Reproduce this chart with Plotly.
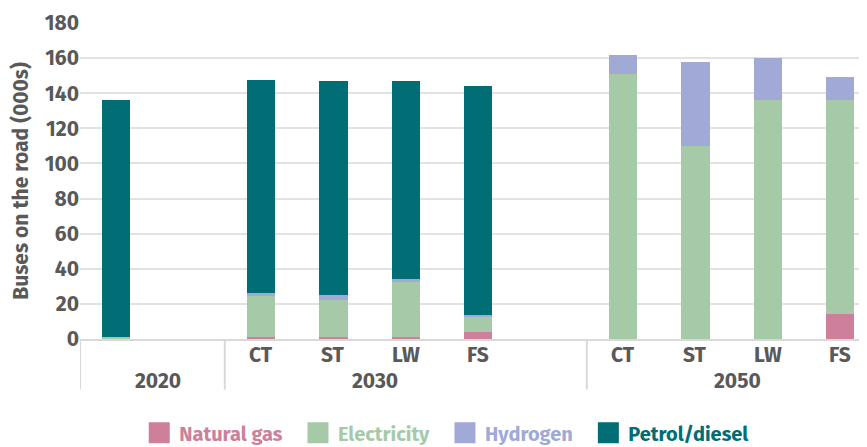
import plotly.graph_objects as go

# slot positions along the category axis (blank slots separate groups)
slots = [0, 2, 3, 4, 5, 7, 8, 9, 10]
sub_labels = ["", "CT", "ST", "LW", "FS", "CT", "ST", "LW", "FS"]
groups = ["2020", "2030", "2050"]
group_centers = [0.58, 3.58, 8.58]
separators = [-0.5, 1.5, 6.5]

natural_gas = [0, 1, 1, 1, 3.8, 0, 0, 0, 14]
electricity = [1, 24, 21.5, 31.5, 8.7, 151, 110, 136, 122]
hydrogen = [0, 1, 2.5, 1.5, 1.3, 11, 48, 24, 13]
petrol_diesel = [135, 121.5, 122, 113, 130.5, 0, 0, 0, 0]

series = [
    ("Natural gas", natural_gas, "#CE7F9B"),
    ("Electricity", electricity, "#A6CAA8"),
    ("Hydrogen", hydrogen, "#A1A9D7"),
    ("Petrol/diesel", petrol_diesel, "#006E74"),
]

FONT = "Fira Sans, Lato, Roboto, sans-serif"
GREY = "#595959"

fig = go.Figure()
for name, vals, col in series:
    fig.add_trace(go.Bar(
        x=slots, y=vals, width=0.39, showlegend=False,
        marker=dict(color=col, line=dict(width=0)),
    ))
for i, (name, vals, col) in enumerate(series):
    pad = "&nbsp;&nbsp;" if i < len(series) - 1 else ""
    fig.add_trace(go.Scatter(
        x=[None], y=[None], mode="markers",
        name=f"<span style='color:{col}'><b>{name}</b></span>{pad}",
        marker=dict(color=col, symbol="square", size=16, line=dict(color=col, width=5)),
    ))

annotations = []
for s, lab in zip(slots, sub_labels):
    if lab:
        annotations.append(dict(x=s, y=0, xref="x", yref="y", text=f"<b>{lab}</b>",
                                showarrow=False, yanchor="middle", yshift=-16,
                                font=dict(family=FONT, size=21, color=GREY)))
for g, c in zip(groups, group_centers):
    annotations.append(dict(x=c, y=0, xref="x", yref="y", text=f"<b>{g}</b>",
                            showarrow=False, yanchor="middle", yshift=-42,
                            font=dict(family=FONT, size=21, color=GREY)))

shapes = []
for sx in separators:
    shapes.append(dict(type="line", xref="x", yref="paper", x0=sx, x1=sx,
                       y0=0, y1=-0.16, line=dict(color="#d9d9d9", width=2)))

fig.update_layout(
    width=859, height=439,
    margin=dict(l=72, r=0, t=15, b=108, autoexpand=False),
    barmode="stack",
    plot_bgcolor="white", paper_bgcolor="white",
    font=dict(family=FONT, size=20, color=GREY),
    xaxis=dict(range=[-0.5, 10.37], showticklabels=False, showgrid=False,
               zeroline=False, showline=True, linecolor="#d9d9d9", linewidth=2,
               automargin=False),
    yaxis=dict(range=[0, 180], dtick=20, showgrid=True, gridcolor="#e2e2e2",
               gridwidth=1.5, zeroline=False, ticks="", automargin=False,
               tickfont=dict(family=FONT, size=21, color=GREY),
               title=dict(text="<b>Buses on the road (000s)</b>",
                          font=dict(family=FONT, size=21, color=GREY), standoff=12)),
    legend=dict(orientation="h", x=0.466, xanchor="center", y=-0.297, yanchor="middle",
                font=dict(family=FONT, size=20), traceorder="normal",
                itemsizing="trace", itemwidth=30),
    annotations=annotations, shapes=shapes,
    bargap=0,
)
fig.update_yaxes(tickprefix="<b>", ticksuffix="</b>")

fig.write_html("out.html")
